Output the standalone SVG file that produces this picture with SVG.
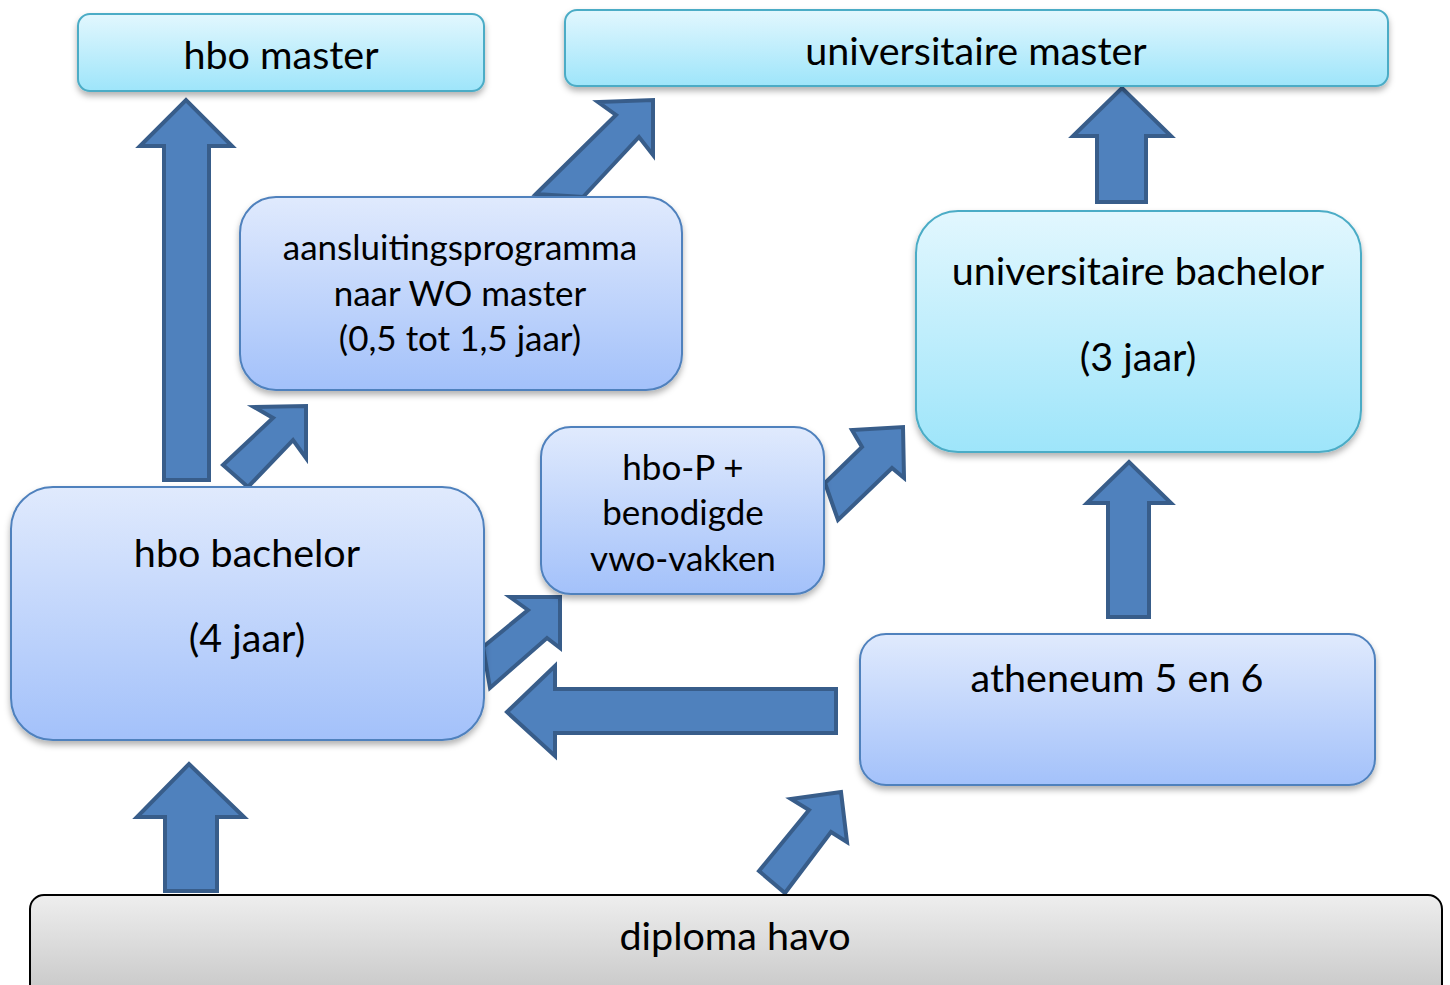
<svg xmlns="http://www.w3.org/2000/svg" width="1450" height="985" viewBox="0 0 1450 985">
<style>
.cyan{fill:url(#gCyan);stroke:#4bacc6;stroke-width:2;filter:url(#sh)}
.blue{fill:url(#gBlue);stroke:#4f81bd;stroke-width:2;filter:url(#sh)}
.gray{fill:url(#gGray);stroke:#000;stroke-width:2}
.arr{fill:#4f81bd;stroke:#385d8a;stroke-width:4;stroke-linejoin:miter}
text{font-family:Lato,"Open Sans","Liberation Sans",sans-serif;fill:#000;text-anchor:middle}
.t36{font-size:39.5px}
.t32{font-size:35px}
</style>
<defs>
<linearGradient id="gCyan" x1="0" y1="0" x2="0" y2="1"><stop offset="0" stop-color="#e2f7fe"/><stop offset="1" stop-color="#9ee5fa"/></linearGradient>
<linearGradient id="gBlue" x1="0" y1="0" x2="0" y2="1"><stop offset="0" stop-color="#e0eafd"/><stop offset="1" stop-color="#a3c1fa"/></linearGradient>
<linearGradient id="gGray" x1="0" y1="0" x2="0" y2="1"><stop offset="0" stop-color="#eeeeee"/><stop offset="1" stop-color="#c4c4c4"/></linearGradient>
<filter id="sh" x="-5%" y="-10%" width="110%" height="130%"><feDropShadow dx="0" dy="4" stdDeviation="3" flood-color="#000" flood-opacity="0.3"/></filter>
</defs>
<g id="connectors">
<polygon class="arr" points="164,480 164,146 140,146 186,100 232,146 209,146 209,480"/>
<polygon class="arr" points="223,465 273,418 254,407 306,406 306,458 293,440 248,487"/>
<polygon class="arr" points="536,194 616,115 598,102 653,100 653,155 639,137 583,197"/>
<polygon class="arr" points="825,483 862,447 852,430 903,427 904,478 892,468 838,520"/>
<polygon class="arr" points="483,647 528,610 510,597 560,597 560,648 547,638 490,688"/>
<polygon class="arr" points="836,689 555,689 555,666 507,712 555,756 555,733 836,733"/>
<polygon class="arr" points="1097,202 1097,136 1073,136 1122,88 1171,136 1146,136 1146,202"/>
<polygon class="arr" points="1108,617 1108,503 1087,503 1129,462 1171,503 1149,503 1149,617"/>
<polygon class="arr" points="165,891 165,817 137,817 189,764 244,817 217,817 217,891"/>
<polygon class="arr" points="759,871 809,810 791,799 841,792 847,842 831,832 785,893"/>
</g>
<g id="hbo-master"><rect class="cyan" x="78" y="14" width="406" height="77" rx="12"/><text class="t36" x="281" y="69">hbo master</text></g>
<g id="uni-master"><rect class="cyan" x="565" y="10" width="823" height="76" rx="12"/><text class="t36" x="976" y="65">universitaire master</text></g>
<g id="aansluiting"><rect class="blue" x="240" y="197" width="442" height="193" rx="36"/><text class="t32" x="460" y="260">aansluitingsprogramma</text><text class="t32" x="460" y="306">naar WO master</text><text class="t32" x="460" y="351">(0,5 tot 1,5 jaar)</text></g>
<g id="uni-bachelor"><rect class="cyan" x="916" y="211" width="445" height="241" rx="42"/><text class="t36" x="1138" y="285">universitaire bachelor</text><text class="t36" x="1138" y="371">(3 jaar)</text></g>
<g id="hbo-p"><rect class="blue" x="541" y="427" width="283" height="167" rx="30"/><text class="t32" x="683" y="480">hbo-P +</text><text class="t32" x="683" y="525">benodigde</text><text class="t32" x="683" y="571">vwo-vakken</text></g>
<g id="hbo-bachelor"><rect class="blue" x="11" y="487" width="473" height="253" rx="42"/><text class="t36" x="247" y="567">hbo bachelor</text><text class="t36" x="247" y="652">(4 jaar)</text></g>
<g id="atheneum"><rect class="blue" x="860" y="634" width="515" height="151" rx="26"/><text class="t36" x="1117" y="692">atheneum 5 en 6</text></g>
<g id="diploma"><rect class="gray" x="30" y="895" width="1412" height="110" rx="14"/><text class="t36" x="735" y="950">diploma havo</text></g>
</svg>
